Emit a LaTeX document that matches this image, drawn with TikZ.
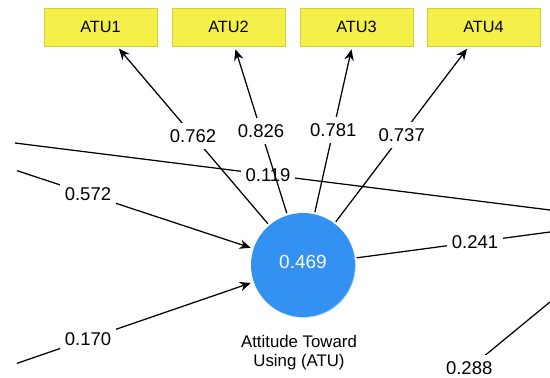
\documentclass[tikz,border=0pt]{standalone}
\usepackage{fontspec}
\setmainfont{Liberation Sans}
\usetikzlibrary{arrows.meta,shadows}
\definecolor{itemyellow}{HTML}{F5EF4A}
\definecolor{itemedge}{HTML}{D6CF3C}
\definecolor{lvblue}{HTML}{3391F2}
\definecolor{lvrim}{HTML}{B5D8FA}
\begin{document}
\begin{tikzpicture}[x=1pt,y=-1pt,
  item/.style={rectangle, fill=itemyellow, draw=itemedge, line width=0.9pt,
    minimum width=113pt, minimum height=38pt, inner sep=0pt,
    font=\fontsize{16.3}{19}\selectfont},
  latent/.style={circle, fill=lvblue, minimum size=104pt, inner sep=0pt,
    text=white, font=\fontsize{19}{22}\selectfont,
    drop shadow={shadow xshift=0.8pt, shadow yshift=-0.8pt, fill=lvrim, opacity=1}},
  caption/.style={align=center, font=\fontsize{16.8}{19.5}\selectfont},
  coef/.style={fill=white, inner xsep=4.5pt, inner ysep=6.5pt,
    font=\fontsize{18.5}{21}\selectfont},
  link/.style={line width=1.25pt},
  load/.style={link, -{Stealth[length=11pt,width=9.5pt]}, shorten >=3pt, shorten <=2pt}
]
\useasboundingbox (0,0) rectangle (550,378);
\clip (0,0) rectangle (550,378);

% indicator boxes
\node[item] (atu1) at (100.5,27) {ATU1};
\node[item] (atu2) at (228.5,27) {ATU2};
\node[item] (atu3) at (356.5,27) {ATU3};
\node[item] (atu4) at (483.5,27) {ATU4};

% latent variable with its R-squared and name
\node[latent] (atu) at (303,265) {\raisebox{6pt}{0.469}};
\node[caption] (atucap) at (299,352.5) {Attitude Toward\\Using (ATU)};

% ends of paths that run out of view
\coordinate (inA) at (15,143);
\coordinate (outA) at (550,210);
\coordinate (inB) at (15,170);
\coordinate (inC) at (15,364);
\coordinate (outB) at (550,232);
\coordinate (outC) at (550,302);
\coordinate (outD) at (449,385);

% structural paths
\draw[link] (inA) -- node[coef,pos=0.473]{0.119} (outA);
\draw[load] (inB) -- node[coef,pos=0.306]{0.572} (atu);
\draw[load] (inC) -- node[coef,pos=0.306]{0.170} (atu);
\draw[link, shorten <=2pt] (atu) -- node[coef,pos=0.616]{0.241} (outB);
\draw[link] (outC) -- node[coef,pos=0.8]{0.288} (outD);

% outer loadings
\draw[load] (atu) -- node[coef]{0.762} (atu1);
\draw[load] (atu) -- node[coef]{0.826} (atu2);
\draw[load] (atu) -- node[coef]{0.781} (atu3);
\draw[load] (atu) -- node[coef]{0.737} (atu4);
\end{tikzpicture}
\end{document}
